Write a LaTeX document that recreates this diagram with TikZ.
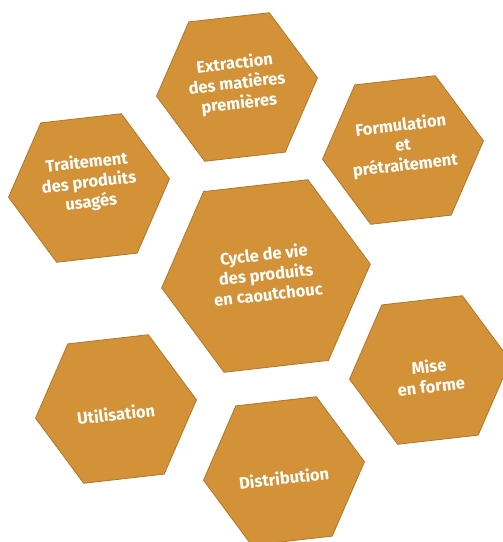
\documentclass[tikz,border=0pt]{standalone}
\usepackage{fontspec}
\setmainfont{Fira Sans}[BoldFont={Fira Sans Bold}]
\usetikzlibrary{shapes.geometric}
\definecolor{hexorange}{RGB}{211,146,56}
\definecolor{hexshade}{RGB}{178,118,42}
\tikzset{
    hexa/.style={regular polygon, regular polygon sides=6, minimum size=162pt,
        inner sep=0pt, outer sep=0pt, fill=hexorange, draw=hexshade, line width=.8pt,
        rotate=6.5},
    bighexa/.style={hexa, minimum size=210pt},
    hextext/.style={text=white, align=center, rotate=6.5, inner sep=0pt,
        font=\bfseries\fontsize{16.5}{20}\selectfont}
}
\begin{document}
\begin{tikzpicture}[x=1pt,y=-1pt]
    \useasboundingbox (0,0) rectangle (503,542);
    \clip (0,0) rectangle (503,542);

    \node[bighexa] (cycle) at (266,276) {};
    \node[hexa] (extraction) at (237,87) {};
    \node[hexa] (formulation) at (403,150) {};
    \node[hexa] (miseforme) at (430,370) {};
    \node[hexa] (distribution) at (284,471) {};
    \node[hexa] (utilisation) at (116,409) {};
    \node[hexa] (traitement) at (89,188) {};

    \node[hextext] (cycletxt) at ([yshift=2pt]cycle) {Cycle de vie\\des produits\\en caoutchouc};
    \node[hextext] (extractiontxt) at ([yshift=3pt]extraction) {Extraction\\des matières\\premières};
    \node[hextext] (formulationtxt) at ([yshift=4pt]formulation) {Formulation\\et\\prétraitement};
    \node[hextext] (miseformetxt) at ([yshift=-6pt]miseforme) {Mise\\en forme};
    \node[hextext] (distributiontxt) at ([yshift=-7pt]distribution) {Distribution};
    \node[hextext] (utilisationtxt) at ([yshift=-5pt]utilisation) {Utilisation};
    \node[hextext] (traitementtxt) at ([yshift=5pt]traitement) {Traitement\\des produits\\usagés};
\end{tikzpicture}
\end{document}
